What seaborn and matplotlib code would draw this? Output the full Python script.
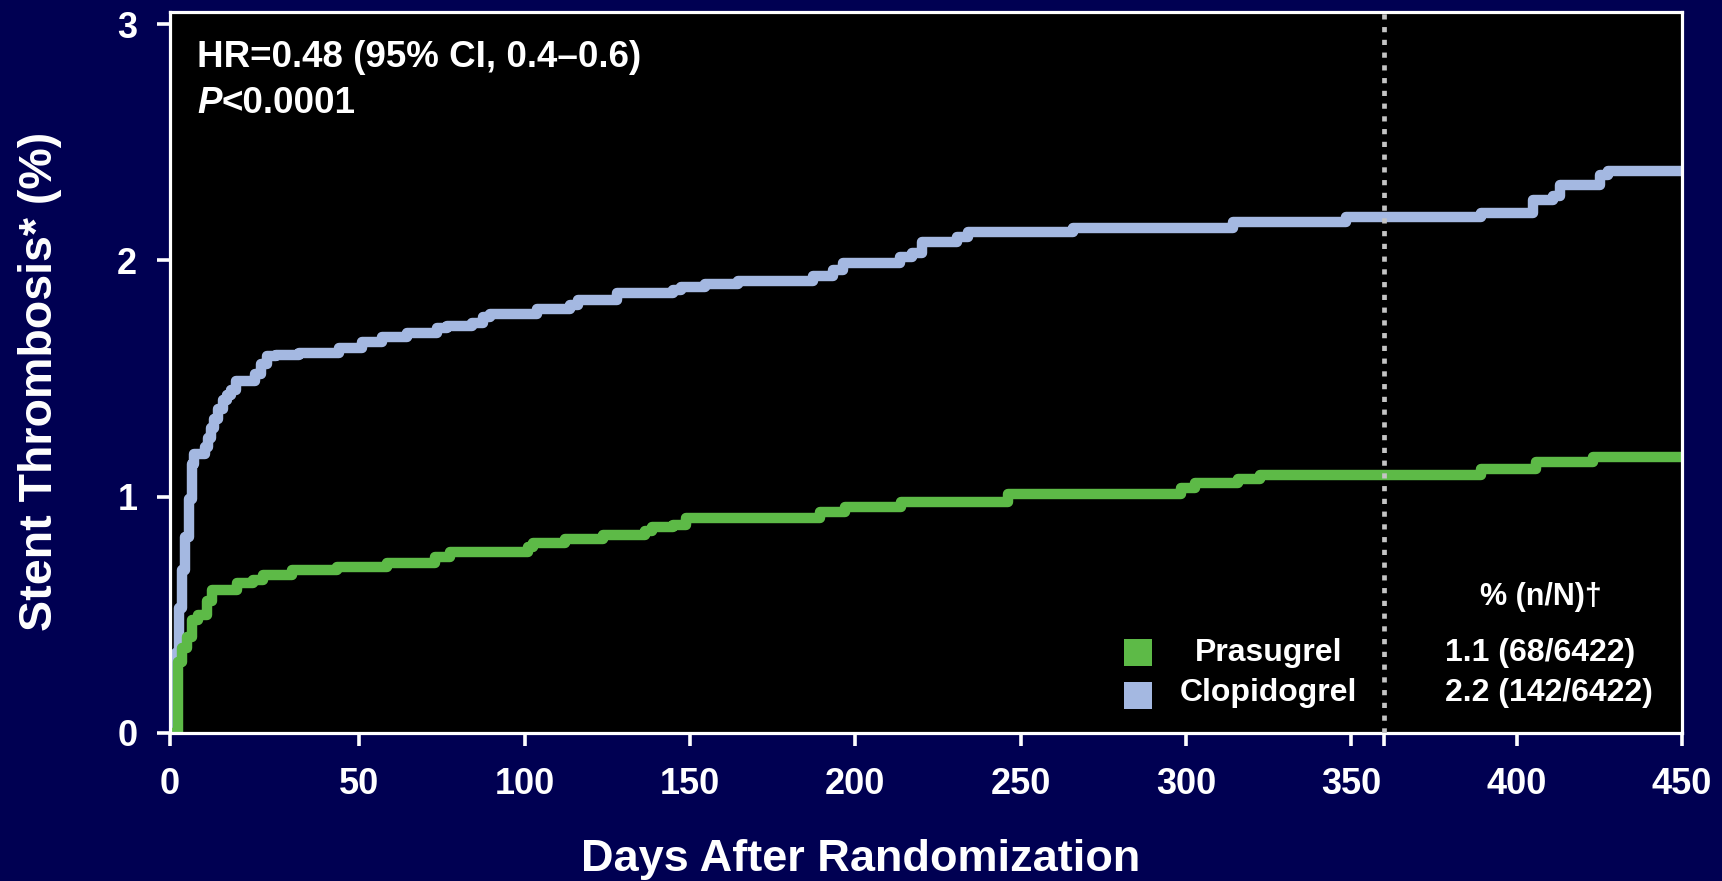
import numpy as np
import pandas as pd
import matplotlib
matplotlib.use("Agg")
import matplotlib.pyplot as plt
from matplotlib.patches import Rectangle
import seaborn as sns

# ---------------- data ----------------
arms = ["Prasugrel", "Clopidogrel"]

clop_days = [0, 1.6, 2.4, 3.2, 4.0, 4.9, 5.8, 6.3, 9.2, 10.0, 10.8, 11.7, 12.6,
             14.0, 15.0, 16.0, 17.5, 22.4, 24.0, 25.5, 28.0, 34.0, 44.5, 50.7,
             56.7, 64.3, 73.4, 76.4, 84.0, 87.5, 89.5, 103.6, 113.7, 116.2,
             127.8, 144.9, 147.4, 154.5, 164.6, 187.2, 193.3, 196.3, 213.4,
             217.0, 220.0, 230.6, 234.1, 265.8, 314.2, 348.5, 389.3, 404.9,
             411.0, 413.0, 425.1, 427.6, 450]
clop_pct = [0, 0.34, 0.53, 0.69, 0.83, 0.99, 1.14, 1.18, 1.21, 1.25, 1.29, 1.33,
            1.37, 1.41, 1.43, 1.45, 1.49, 1.52, 1.56, 1.595, 1.60, 1.607, 1.628,
            1.656, 1.677, 1.691, 1.713, 1.722, 1.736, 1.762, 1.772, 1.793, 1.811,
            1.832, 1.863, 1.875, 1.889, 1.899, 1.914, 1.935, 1.959, 1.99, 2.016,
            2.030, 2.079, 2.100, 2.119, 2.139, 2.164, 2.185, 2.203, 2.256, 2.273,
            2.319, 2.361, 2.378, 2.378]

pras_days = [0, 2.0, 3.1, 4.4, 5.7, 7.5, 9.7, 11.0, 17.6, 22.0, 24.6, 32.1, 44.0,
             58.3, 72.9, 77.4, 101.1, 102.6, 112.2, 123.7, 136.4, 138.4, 144.9,
             148.9, 189.3, 196.8, 213.9, 246.2, 298.6, 302.6, 315.7, 322.3,
             389.3, 405.9, 423.0, 450]
pras_pct = [0, 0.30, 0.358, 0.408, 0.478, 0.499, 0.56, 0.605, 0.633, 0.647, 0.669,
            0.690, 0.704, 0.718, 0.744, 0.767, 0.788, 0.803, 0.820, 0.838, 0.856,
            0.873, 0.880, 0.908, 0.937, 0.955, 0.979, 1.010, 1.035, 1.057, 1.074,
            1.092, 1.116, 1.148, 1.167, 1.167]

x_ticks = [0, 50, 100, 150, 200, 250, 300, 350, 400, 450]
x_tick_labels = ["0", "50", "100", "150", "200", "250", "300", "350", "400", "450"]
one_year_day = 360
y_ticks = [0, 1, 2, 3]
y_tick_labels = ["0", "1", "2", "3"]

legend_rates = ["1.1 (68/6422)", "2.2 (142/6422)"]
hr_text = "HR=0.48 (95% CI, 0.4\u20130.6)"
p_value_text = "<0.0001"

# ---------------- style ----------------
NAVY = "#000052"
GREEN = "#5dba47"
BLUE = "#a4b8e1"
WHITE = "white"

sns.set_theme(style="ticks")
plt.rcParams["font.family"] = ["Liberation Sans", "DejaVu Sans"]
plt.rcParams["font.weight"] = "bold"

df = pd.concat([
    pd.DataFrame({"day": pras_days, "pct": pras_pct, "arm": "Prasugrel"}),
    pd.DataFrame({"day": clop_days, "pct": clop_pct, "arm": "Clopidogrel"}),
], ignore_index=True)

fig = plt.figure(figsize=(17.22, 8.81), dpi=100, facecolor=NAVY)
ax = fig.add_axes([0.0987, 0.168, 0.9768 - 0.0987, 0.9867 - 0.168])
ax.set_facecolor("black")

# the printed axis gives the first 50 days a slightly wider span than later days
early_frac = 0.1253  # share of axis width used by days 0-50 in the reference
def _fwd(d):
    d = np.asarray(d, dtype=float)
    return np.where(d < 50, d * early_frac / 50,
                    early_frac + (d - 50) * (1 - early_frac) / 400)
def _inv(p):
    p = np.asarray(p, dtype=float)
    return np.where(p < early_frac, p * 50 / early_frac,
                    50 + (p - early_frac) * 400 / (1 - early_frac))
ax.set_xscale("function", functions=(_fwd, _inv))

sns.lineplot(data=df, x="day", y="pct", hue="arm",
             hue_order=["Clopidogrel", "Prasugrel"],
             palette={"Prasugrel": GREEN, "Clopidogrel": BLUE},
             estimator=None, sort=False, drawstyle="steps-post",
             linewidth=7.5, legend=False, ax=ax)
for ln in ax.get_lines():
    ln.set_solid_joinstyle("round")
    ln.set_solid_capstyle("butt")

ax.axvline(one_year_day, color="#c4c4c4", lw=3.4, linestyle=(0, (1.1, 1.6)),
           zorder=3)

ax.set_xlim(0, 450)
ax.set_ylim(0, 3.053)
ax.set_xticks(x_ticks + [one_year_day], x_tick_labels + [""])
ax.set_yticks(y_ticks, y_tick_labels)
ax.minorticks_off()
ax.set_xlabel("")
ax.set_ylabel("")

for s in ax.spines.values():
    s.set_color(WHITE)
    s.set_linewidth(2.3)
ax.tick_params(axis="both", direction="out", length=9.5, width=2.6,
               color=WHITE, labelcolor=WHITE, labelsize=26)
ax.tick_params(axis="x", pad=15)
ax.tick_params(axis="y", pad=14)
for lab in ax.get_xticklabels() + ax.get_yticklabels():
    lab.set_fontweight("bold")

# axis titles
fig.text(0.5, 0.0114, "Days After Randomization", ha="center", va="baseline",
         color=WHITE, fontsize=32.5, fontweight="bold")
fig.text(0.0235, 0.567, "Stent Thrombosis* (%)", ha="center", va="center",
         rotation=90, color=WHITE, fontsize=33.5, fontweight="bold")

# HR / P annotation
ax.text(0.0179, 0.9233, hr_text, transform=ax.transAxes, ha="left",
        va="baseline", color=WHITE, fontsize=26.5, fontweight="bold")
p_txt = ax.text(0.0179, 0.8597, "P", transform=ax.transAxes, ha="left",
                va="baseline", color=WHITE, fontsize=26.5, fontweight="bold",
                style="italic")
ax.annotate(p_value_text, xy=(1, 0), xycoords=p_txt, ha="left", va="bottom",
            color=WHITE, fontsize=26.5, fontweight="bold")

# legend block
sq_w, sq_h = 0.0185, 0.0374
for arm, col, yb, yc, rate in [("Prasugrel", GREEN, 0.0929, 0.1115, legend_rates[0]),
                               ("Clopidogrel", BLUE, 0.0333, 0.0560, legend_rates[1])]:
    ax.add_patch(Rectangle((0.631, yb), sq_w, sq_h, transform=ax.transAxes,
                           facecolor=col, edgecolor="none", zorder=4))
    ax.text(0.7266, yc, arm, transform=ax.transAxes, ha="center", va="center",
            color=WHITE, fontsize=23, fontweight="bold", zorder=4)
    ax.text(0.843, yc, rate, transform=ax.transAxes, ha="left", va="center",
            color=WHITE, fontsize=23, fontweight="bold", zorder=4)
ax.text(0.9067, 0.189, "% (n/N)\u2020", transform=ax.transAxes, ha="center",
        va="center", color=WHITE, fontsize=22, fontweight="bold")

fig.savefig("out.png", dpi=100, facecolor=NAVY)
